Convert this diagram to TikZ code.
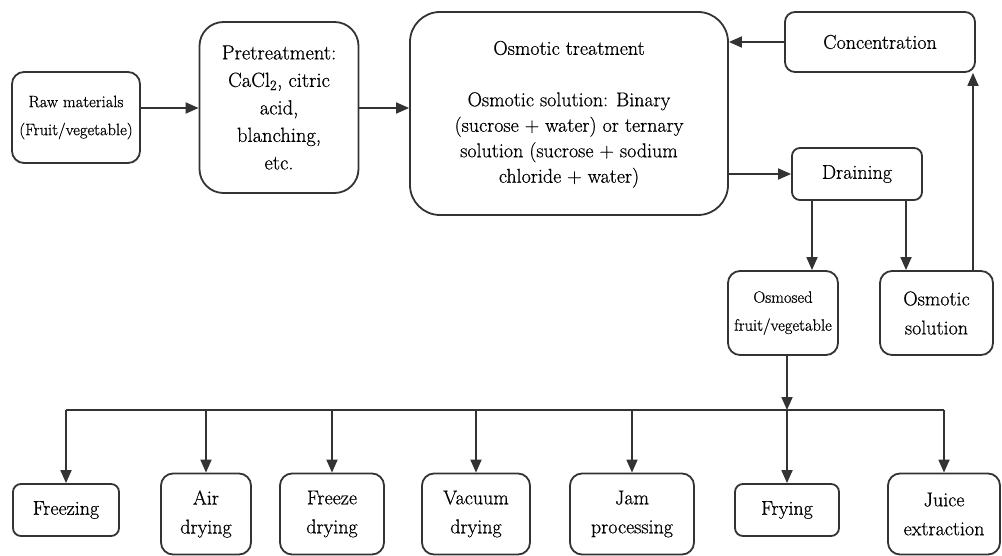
\documentclass[tikz,border=0pt]{standalone}
\usepackage{fontspec}
\setmainfont{Latin Modern Roman}[FakeBold=0.6]
\usetikzlibrary{arrows.meta,calc}
\begin{document}
\begin{tikzpicture}[x=1pt,y=-1pt,
  box/.style={draw=black!80,line width=1.8pt,align=center,inner sep=2pt,font=\fontsize{20}{25}\selectfont},
  two/.style={font=\fontsize{20}{29}\selectfont},
  arr/.style={line width=1.8pt,draw=black!80,-{Triangle[length=13pt,width=11pt]}},
  ln/.style={line width=1.8pt,draw=black!80}]
\useasboundingbox (0,0) rectangle (1002,556);
\node[box,rounded corners=12pt,minimum width=128pt,minimum height=91pt,font=\fontsize{16.5}{28}\selectfont] (raw) at (76,117.5) {Raw materials\\(Fruit/vegetable)};
\node[box,rounded corners=24pt,minimum width=159pt,minimum height=171pt,font=\fontsize{20.5}{27.5}\selectfont] (pre) at (279,107.5) {Pretreatment:\\CaCl\textsubscript{2}, citric\\acid,\\blanching,\\etc.};
\node[box,rounded corners=30pt,minimum width=318pt,minimum height=203pt] (osm) at (569,113.5) {};
\node[align=center,font=\fontsize{20}{25}\selectfont] (osmt) at (569,48) {Osmotic treatment};
\node[align=center,font=\fontsize{20}{25.5}\selectfont] (osms) at (569,140) {Osmotic solution: Binary\\(sucrose + water) or ternary\\solution (sucrose + sodium\\chloride + water)};
\node[box,rounded corners=10pt,minimum width=190pt,minimum height=60pt] (conc) at (880,42) {Concentration};
\node[box,rounded corners=8pt,minimum width=130pt,minimum height=52pt] (drain) at (857,174) {Draining};
\node[box,rounded corners=12pt,minimum width=110pt,minimum height=84pt,font=\fontsize{16.5}{28}\selectfont] (osd) at (783,313) {Osmosed\\fruit/vegetable};
\node[box,two,rounded corners=12pt,minimum width=113pt,minimum height=84pt] (sol) at (936.5,313) {Osmotic\\solution};
\node[box,rounded corners=8pt,minimum width=106pt,minimum height=52pt] (frz) at (66,510) {Freezing};
\node[box,two,rounded corners=12pt,minimum width=90pt,minimum height=81pt] (air) at (206,514) {Air\\drying};
\node[box,two,rounded corners=12pt,minimum width=104pt,minimum height=81pt] (fd) at (332,514) {Freeze\\drying};
\node[box,two,rounded corners=12pt,minimum width=108pt,minimum height=81pt] (vd) at (476,514) {Vacuum\\drying};
\node[box,two,rounded corners=12pt,minimum width=124pt,minimum height=81pt] (jam) at (632,514) {Jam\\processing};
\node[box,rounded corners=8pt,minimum width=104pt,minimum height=52pt] (fry) at (787,510) {Frying};
\node[box,two,rounded corners=12pt,minimum width=112pt,minimum height=81pt] (jui) at (944,514) {Juice\\extraction};
\coordinate (bus) at (787,410);
\draw[arr] (raw.east |- 0,108) -- (pre.west |- 0,108);
\draw[arr] (pre.east |- 0,108) -- (osm.west |- 0,108);
\draw[arr] (conc.west) -- (conc.west -| osm.east);
\draw[arr] (osm.east |- drain.west) -- (drain.west);
\draw[arr] (drain.south -| 812,0) -- (osd.north -| 812,0);
\draw[arr] (drain.south -| 906,0) -- (sol.north -| 906,0);
\draw[arr] (sol.north -| 973,0) -- (conc.south -| 973,0);
\draw[arr] (osd.south -| bus) -- (bus);
\draw[ln] (bus -| frz) -- (bus -| jui);
\foreach \n in {frz,air,fd,vd,jam,fry,jui}{
  \draw[arr] (bus -| \n) -- (\n.north);
}
\end{tikzpicture}
\end{document}
